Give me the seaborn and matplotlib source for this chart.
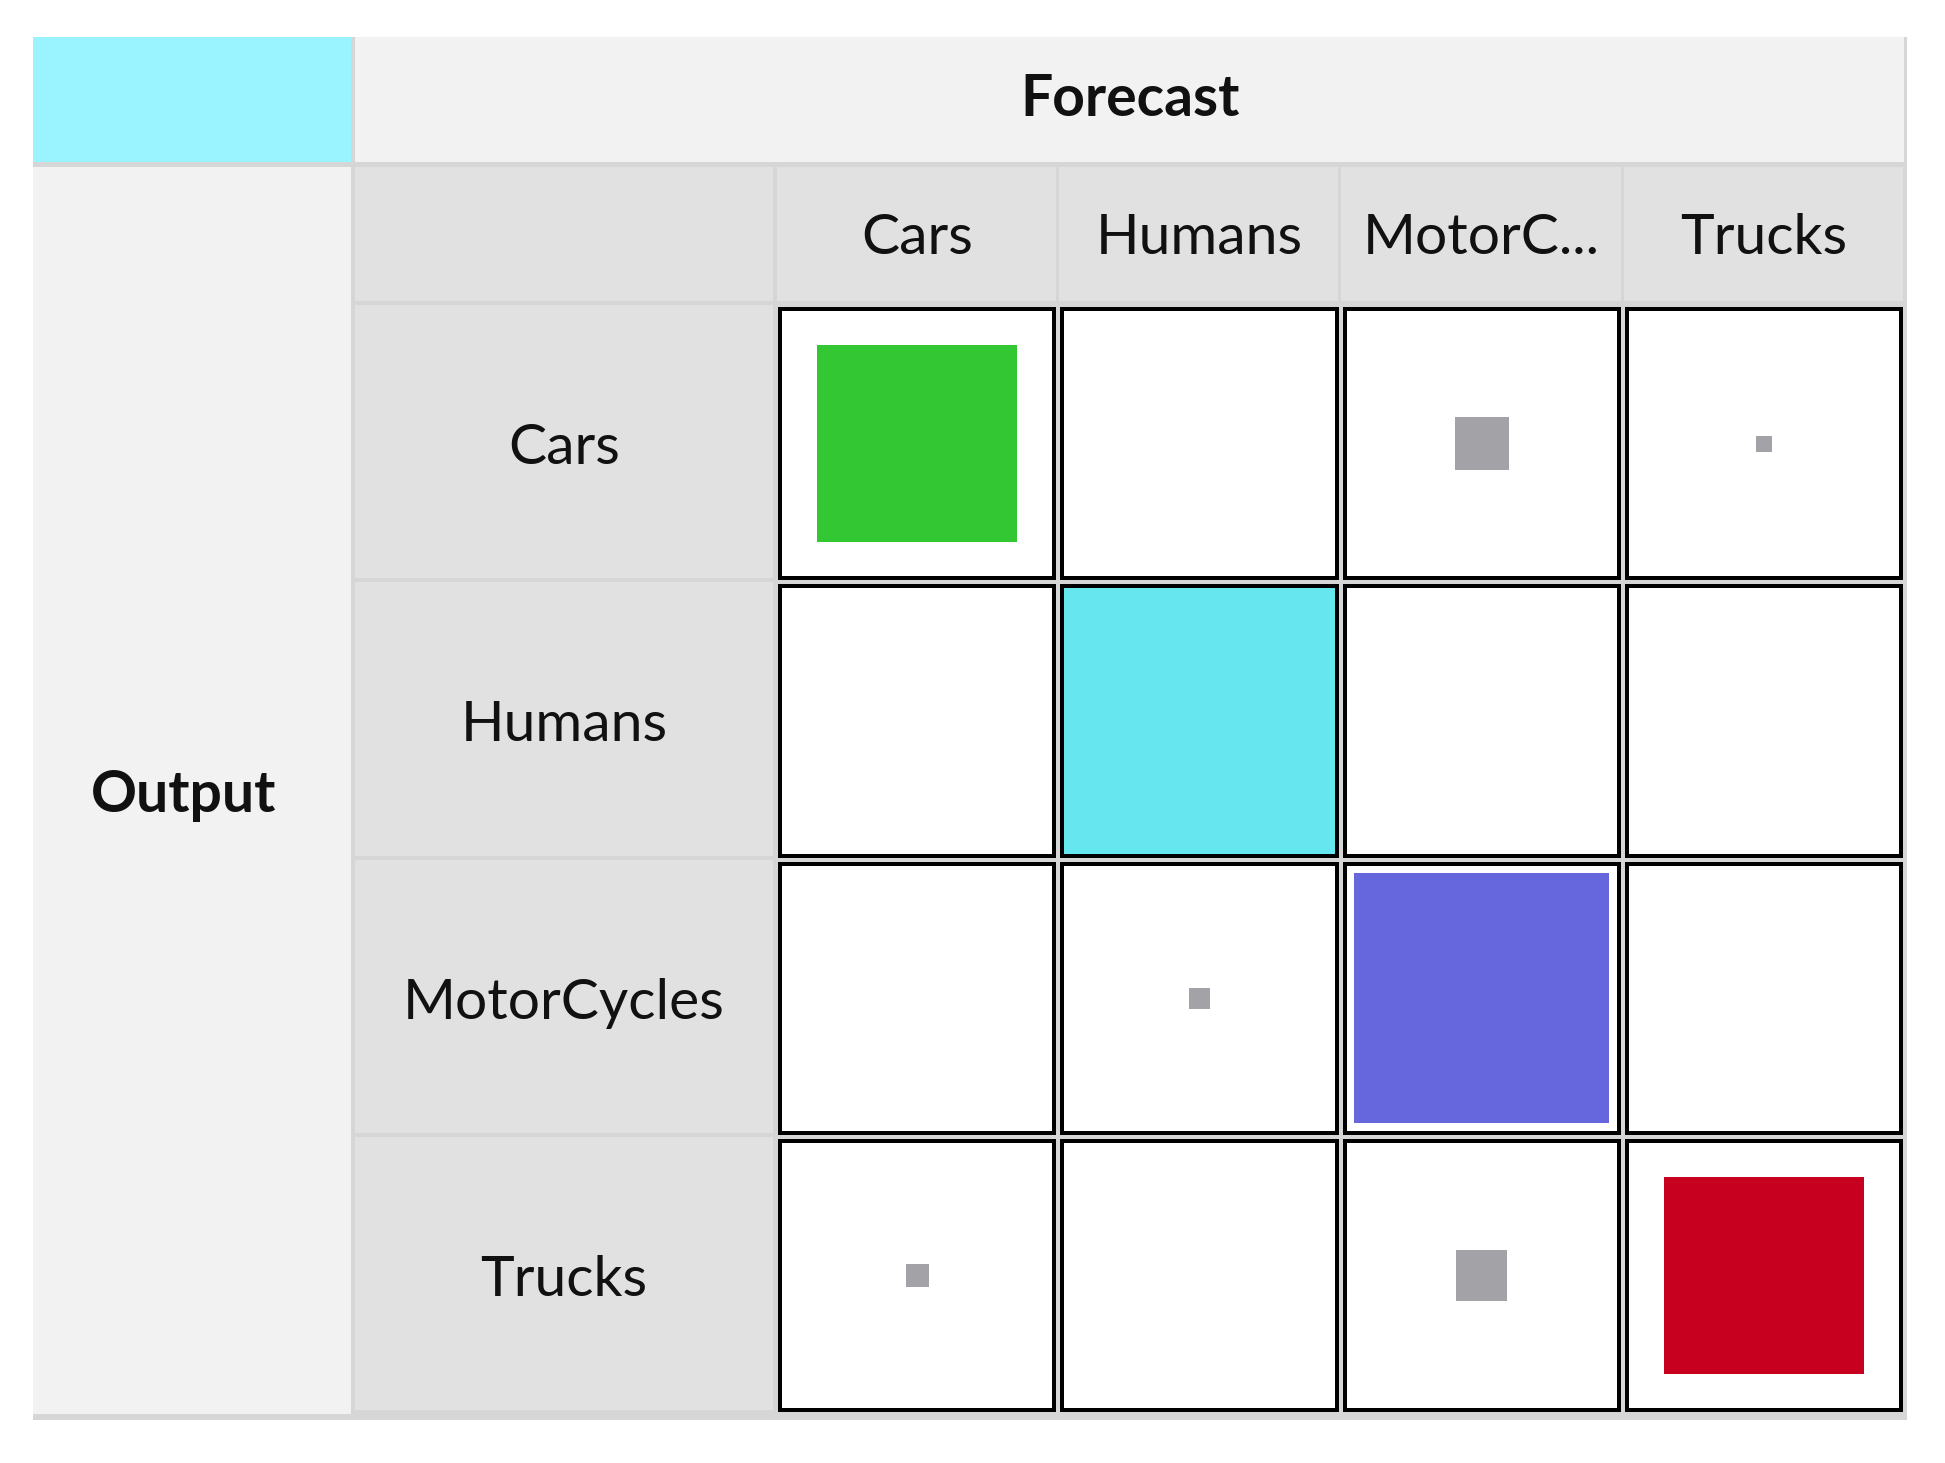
import matplotlib
matplotlib.use("Agg")
import matplotlib.pyplot as plt
import numpy as np
import pandas as pd
import seaborn as sns
from matplotlib.colors import ListedColormap
from matplotlib.patches import Rectangle
from matplotlib.path import Path

# confusion matrix: rows = output, columns = forecast
classes = ["Cars", "Humans", "MotorCycles", "Trucks"]
col_labels = ["Cars", "Humans", "MotorC...", "Trucks"]
# side of each square relative to the cell (1 = fills the cell)
fill = [
    [0.74, 0.0, 0.20, 0.06],
    [0.0, 1.0, 0.0, 0.0],
    [0.0, 0.08, 0.945, 0.0],
    [0.085, 0.0, 0.19, 0.74],
]
class_colors = ["#33C733", "#66E6EF", "#6666DD", "#C80020"]
other_color = "#A3A3A7"

W, H = 1945, 1463
PT = 0.72  # points per pixel at dpi 100

# layout in pixels
left, out_r = 33, 351
rh_l, rh_r = 355, 773
data_l, data_r = 776, 1905
top, fc_b = 37, 162
ch_t, ch_b = 167, 301
data_t, data_b = 305, 1414
gap, bw = 4, 4
dy_txt = 5  # nudge text down a bit

sep = "#D6D6D6"
light = "#F2F2F2"
mid = "#E1E1E1"
corner = "#99F4FF"
txt = "#111111"

sns.set_theme(style="white")
plt.rcParams["font.family"] = ["Lato", "DejaVu Sans"]

fig = plt.figure(figsize=(W / 100, H / 100), dpi=100)
fig.patch.set_facecolor("white")

# header blocks
bg = fig.add_axes([0, 0, 1, 1])
bg.set_xlim(0, W)
bg.set_ylim(H, 0)
bg.set_axis_off()


def block(x0, y0, x1, y1, color):
    bg.add_patch(Rectangle((x0, y0), x1 - x0, y1 - y0, facecolor=color, edgecolor="none"))


block(left, top, data_r + 2, data_b + 6, sep)
block(left, top, out_r, fc_b, corner)
block(rh_l, top, data_r - 1, fc_b, light)
block(left, ch_t, out_r, data_b, light)
block(rh_l, ch_t, rh_r, ch_b, mid)

n = len(classes)
pitch_x = (data_r - data_l) / n
pitch_y = (data_b - data_t) / n
for j in range(n):
    x0 = data_l + j * pitch_x
    block(x0 + 1, ch_t, x0 + pitch_x - 2, ch_b, mid)
    bg.text(x0 + pitch_x / 2, (ch_t + ch_b) / 2 + dy_txt, col_labels[j], ha="center",
            va="center", fontsize=41, color=txt)
for i in range(n):
    y0 = data_t + i * pitch_y
    block(rh_l, y0, rh_r, y0 + pitch_y - gap, mid)
    bg.text((rh_l + rh_r) / 2, y0 + pitch_y / 2 + dy_txt, classes[i], ha="center",
            va="center", fontsize=41, color=txt)

bg.text((rh_l + data_r) / 2, (top + fc_b) / 2, "Forecast", ha="center", va="center",
        fontsize=41, fontweight="bold", color=txt)
bg.text((left + out_r) / 2 - 8, (ch_t + data_b) / 2 + dy_txt, "Output", ha="center",
        va="center", fontsize=41, fontweight="bold", color=txt)

# data grid
ax = fig.add_axes([data_l / W, 1 - data_b / H, (data_r - data_l) / W, (data_b - data_t) / H])
mat = pd.DataFrame(fill, index=classes, columns=col_labels)
sns.heatmap(mat, cmap=ListedColormap(["white"]), vmin=0, vmax=1, cbar=False,
            linewidths=gap * PT, linecolor=sep, xticklabels=False, yticklabels=False, ax=ax)

dx = (gap / 2 + bw / 2) / pitch_x
dy = (gap / 2 + bw / 2) / pitch_y
for i in range(n):
    for j in range(n):
        ax.add_patch(Rectangle((j + dx, i + dy), 1 - 2 * dx, 1 - 2 * dy, facecolor="none",
                               edgecolor="black", linewidth=bw * PT, zorder=3))

inner_w = pitch_x - gap - 2 * bw
inner_h = pitch_y - gap - 2 * bw
r = inner_h / inner_w
box = Path([(-1, -r), (1, -r), (1, r), (-1, r), (-1, -r)],
           [Path.MOVETO, Path.LINETO, Path.LINETO, Path.LINETO, Path.CLOSEPOLY])

rows = []
for i in range(n):
    for j in range(n):
        if fill[i][j] > 0:
            rows.append({"x": j + 0.5, "y": i + 0.5, "side": fill[i][j],
                         "kind": classes[i] if i == j else "other"})
pts = pd.DataFrame(rows)
palette = dict(zip(classes, class_colors))
palette["other"] = other_color
sns.scatterplot(data=pts, x="x", y="y", hue="kind", palette=palette, marker=box,
                s=(pts["side"] * inner_w * PT) ** 2, linewidth=0, edgecolor="none",
                legend=False, ax=ax, zorder=4)
ax.set_xlim(0, n)
ax.set_ylim(n, 0)
ax.set_axis_off()

fig.savefig("out.png", dpi=100)
